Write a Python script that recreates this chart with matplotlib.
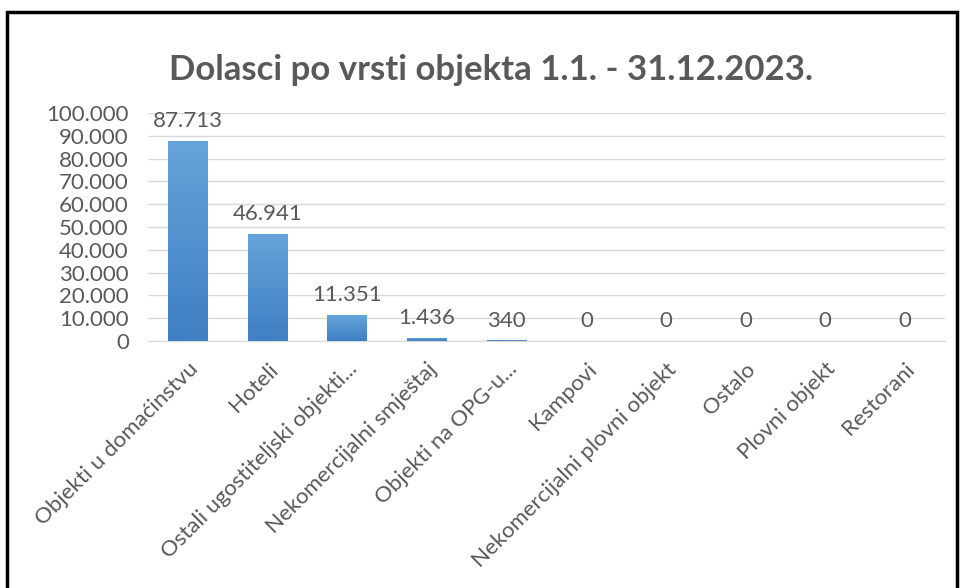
import matplotlib
matplotlib.use('Agg')
import matplotlib.pyplot as plt
import numpy as np
from matplotlib.patches import Rectangle
from matplotlib.colors import LinearSegmentedColormap

# Data
categories = ['Objekti u domaćinstvu', 'Hoteli', 'Ostali ugostiteljski objekti...',
              'Nekomercijalni smještaj', 'Objekti na OPG-u...', 'Kampovi',
              'Nekomercijalni plovni objekt', 'Ostalo', 'Plovni objekt', 'Restorani']
arrivals = [87713, 46941, 11351, 1436, 340, 0, 0, 0, 0, 0]
y_ticks = [0, 10000, 20000, 30000, 40000, 50000, 60000, 70000, 80000, 90000, 100000]


def fmt(v):
    return f'{v:,}'.replace(',', '.')


plt.rcParams['font.family'] = ['Lato', 'DejaVu Sans']
grey = '#595959'

fig = plt.figure(figsize=(9.63, 5.88), dpi=100)
ax = fig.add_axes([0.154, 0.42, 0.827, 0.388])

x = range(len(categories))
bars = ax.bar(x, arrivals, width=0.5, color='#5B9BD5', zorder=3)

# soft vertical gradient inside each bar (lighter on top)
grad = LinearSegmentedColormap.from_list('g', ['#3F7FC3', '#66A3DB'])
for b in bars:
    if b.get_height() <= 0:
        continue
    x0, w, h = b.get_x(), b.get_width(), b.get_height()
    im = ax.imshow(np.linspace(0, 1, 100).reshape(-1, 1), cmap=grad, origin='lower',
                   extent=[x0, x0 + w, 0, h], aspect='auto', zorder=3.5)
    im.set_clip_path(b)

for xi, v in zip(x, arrivals):
    ax.annotate(fmt(v), (xi, v), xytext=(0, 7), textcoords='offset points',
                ha='center', va='bottom', fontsize=16, color=grey)

ax.set_ylim(0, 100000)
ax.set_xlim(-0.5, len(categories) - 0.5)
ax.set_yticks(y_ticks)
ax.set_yticklabels([fmt(t) for t in y_ticks], fontsize=16, color=grey)
ax.set_xticks(list(x))
ax.set_xticklabels(categories, rotation=45, ha='right', rotation_mode='anchor',
                   fontsize=16, color=grey)
ax.tick_params(length=0)
ax.tick_params(axis='y', pad=14)
ax.tick_params(axis='x', pad=13)
ax.grid(axis='y', color='#D9D9D9', linewidth=1, zorder=0)
for s in ['top', 'right', 'left']:
    ax.spines[s].set_visible(False)
ax.spines['bottom'].set_color('#D9D9D9')

fig.text(0.51, 0.881, 'Dolasci po vrsti objekta 1.1. - 31.12.2023.', ha='center', va='center',
         fontsize=25, color=grey, fontweight='bold')

# black frame around the chart (bottom is cut off)
fig.patches.append(Rectangle((0.007, -0.05), 0.987, 1.03,
                             transform=fig.transFigure, fill=False,
                             edgecolor='black', linewidth=2.5))

fig.savefig('out.png', dpi=100)
